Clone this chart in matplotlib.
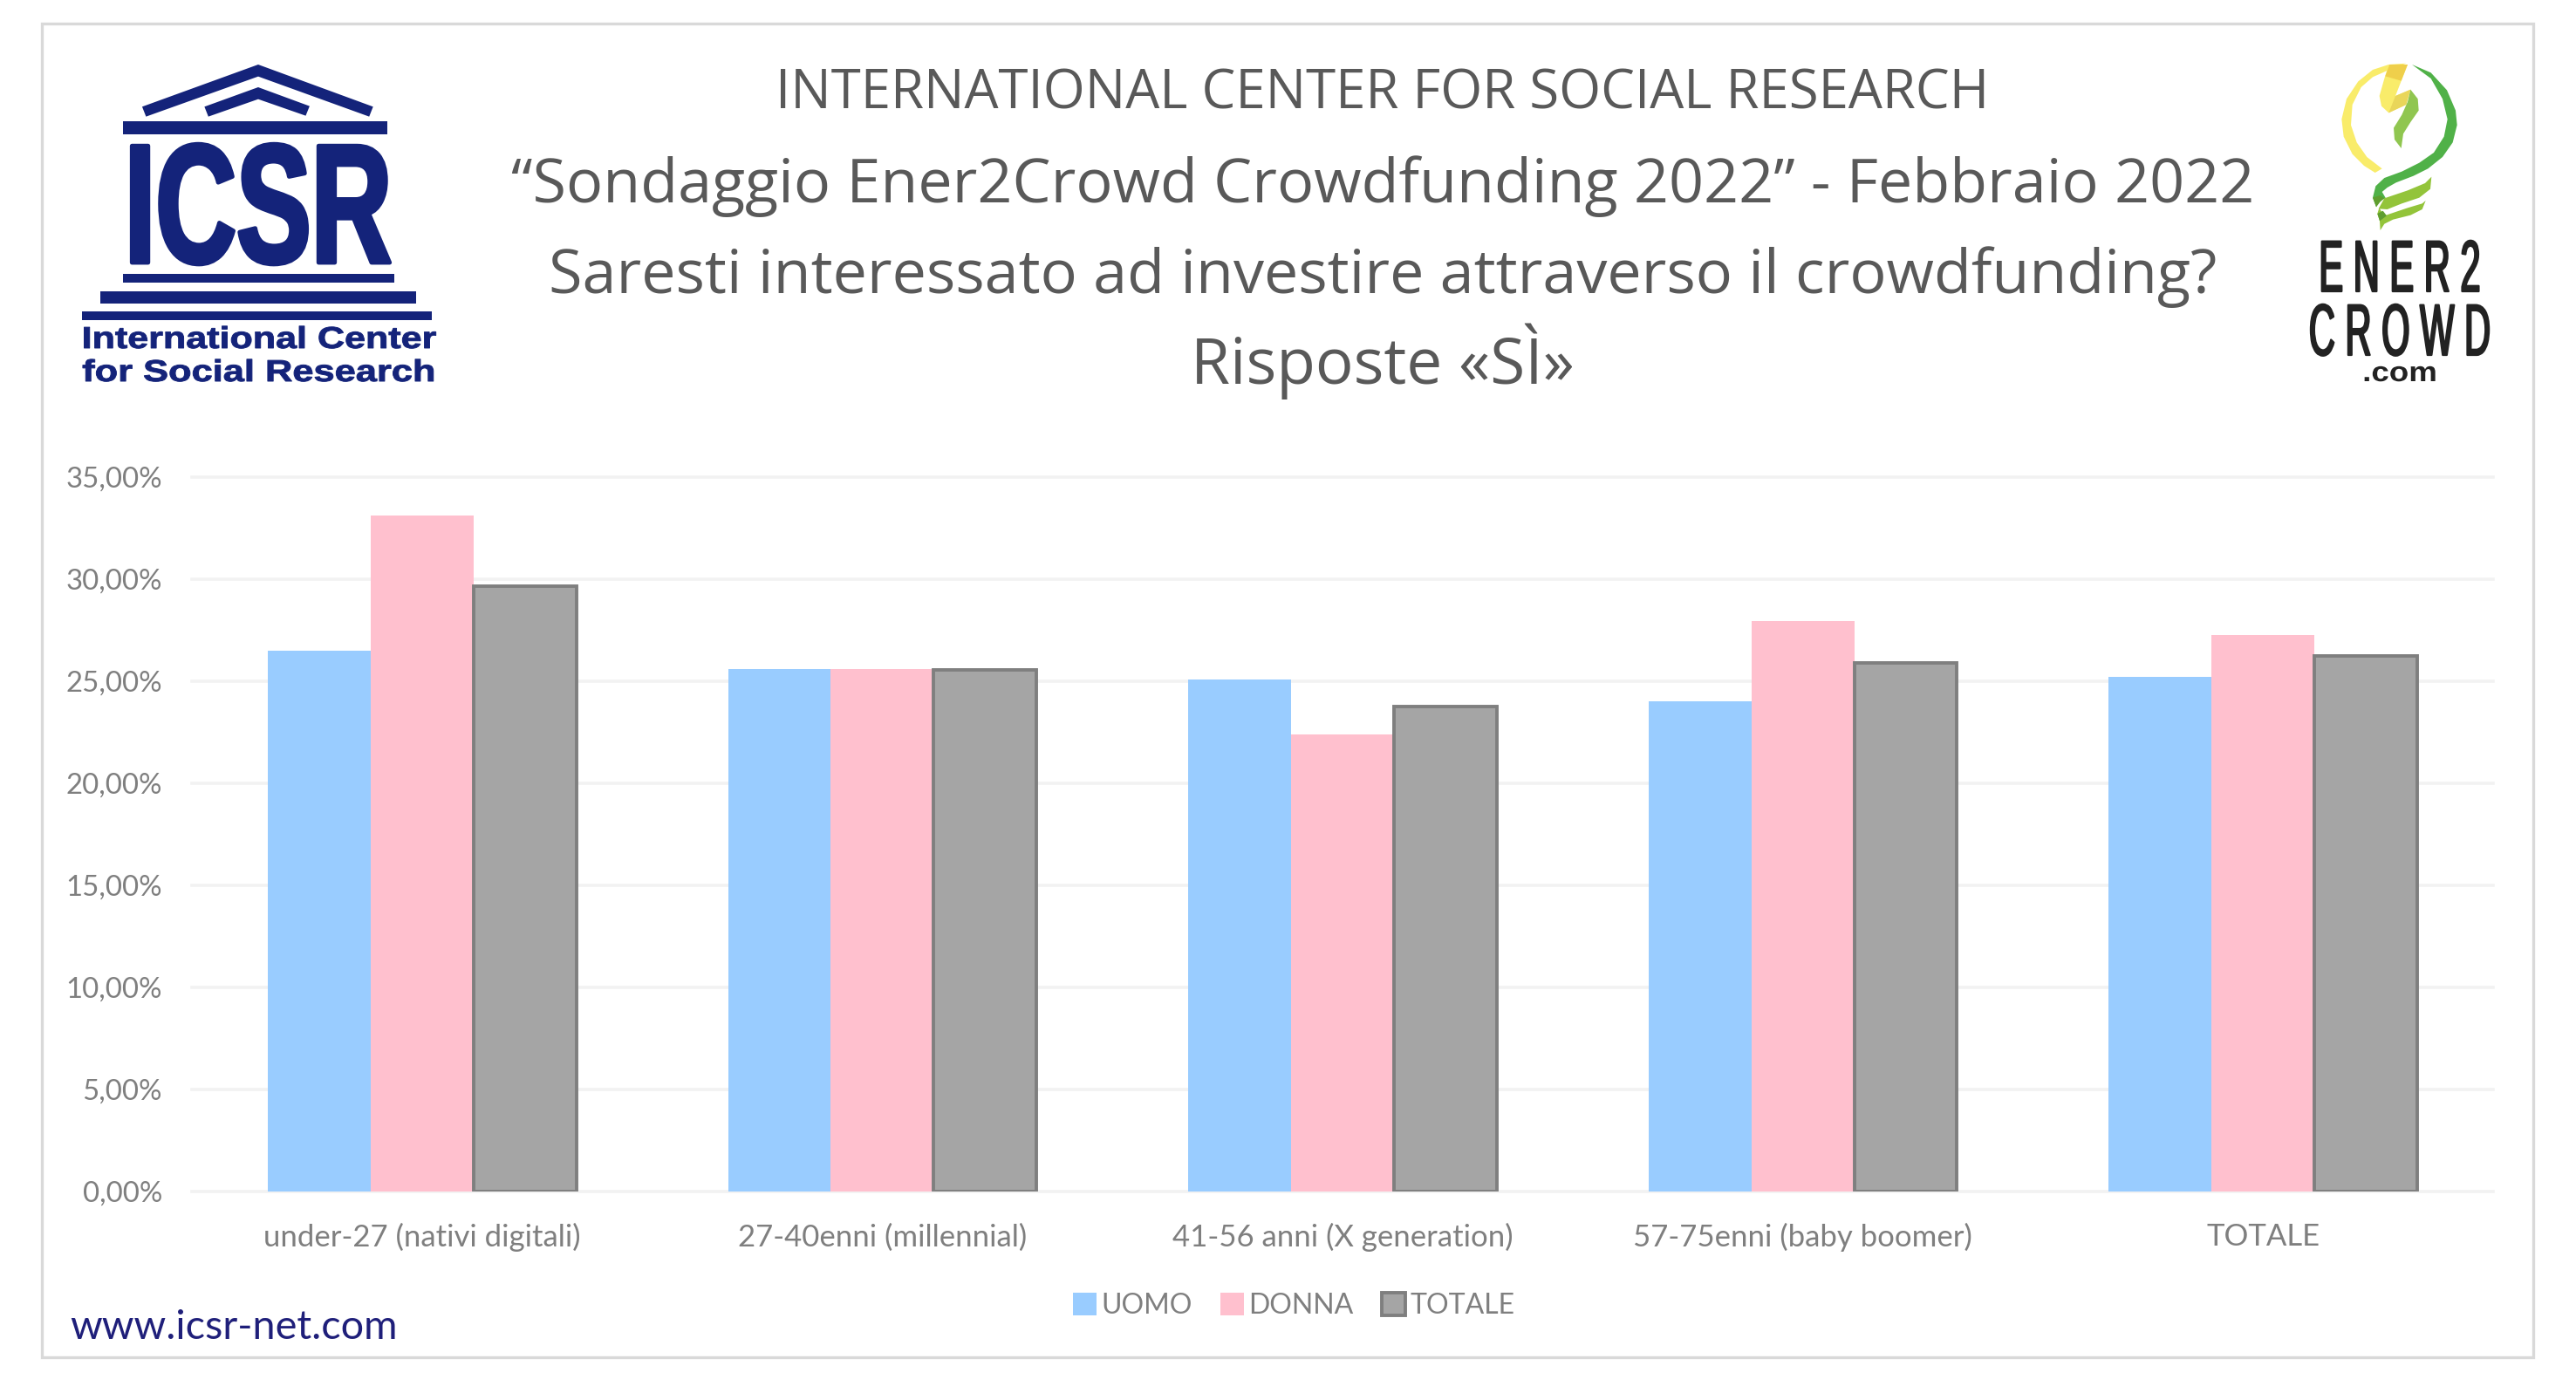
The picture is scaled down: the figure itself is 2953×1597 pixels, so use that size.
import matplotlib
matplotlib.use("Agg")
import matplotlib.pyplot as plt
import numpy as np
from matplotlib.patches import Polygon, Rectangle
from matplotlib.patheffects import AbstractPathEffect
from matplotlib.transforms import Affine2D
from matplotlib.ticker import FuncFormatter, MultipleLocator

# === Data ===
categories = ["under-27 (nativi digitali)", "27-40enni (millennial)", "41-56 anni (X generation)",
              "57-75enni (baby boomer)", "TOTALE"]
uomo = [26.5, 25.6, 25.1, 24.0, 25.2]
donna = [33.1, 25.6, 22.4, 27.95, 27.25]
totale = [29.65, 25.55, 23.75, 25.9, 26.25]

title_lines = ["INTERNATIONAL CENTER FOR SOCIAL RESEARCH",
               "“Sondaggio Ener2Crowd Crowdfunding 2022” - Febbraio 2022",
               "Saresti interessato ad investire attraverso il crowdfunding?",
               "Risposte «SÌ»"]

W, H = 2953, 1597
DPI = 100
GREY_TXT = "#7f7f7f"
NAVY = "#14237a"
plt.rcParams["font.family"] = ["Lato", "DejaVu Sans"]


class Stretch(AbstractPathEffect):
    # scale logo lettering around (x0, baseline), optionally fatten it with a stroke
    def __init__(self, sx, sy, x0, y0, stroke=0):
        self.sx, self.sy, self.x0, self.y0, self.stroke = sx, sy, x0, H - y0, stroke

    def draw_path(self, renderer, gc, tpath, affine, rgbFace=None):
        t = affine + Affine2D().translate(-self.x0, -self.y0).scale(self.sx, self.sy).translate(self.x0, self.y0)
        gc0 = renderer.new_gc()
        gc0.copy_properties(gc)
        gc0.set_linewidth(self.stroke)
        renderer.draw_path(gc0, tpath, t, rgbFace)
        gc0.restore()


fig = plt.figure(figsize=(W / DPI, H / DPI), dpi=DPI, facecolor="white")

# === Main chart ===
left, right, top, bottom = 220, 2858, 547, 1366
ax = fig.add_axes([left / W, 1 - bottom / H, (right - left) / W, (bottom - top) / H])
x = np.arange(len(categories))
width = 0.2235
ax.bar(x - width, uomo, width, color="#99ccff", label="UOMO", zorder=2)
ax.bar(x, donna, width, color="#ffc0ce", label="DONNA", zorder=3)
ax.bar(x + width, totale, width, color="#a5a5a5", edgecolor="#7f7f7f", linewidth=2.8, label="TOTALE", zorder=4)

ax.set_xlim(-0.5, len(categories) - 0.5)
ax.set_ylim(0, 35)
ax.yaxis.set_major_locator(MultipleLocator(5))
ax.yaxis.set_major_formatter(FuncFormatter(lambda v, _: f"{v:.2f}%".replace(".", ",")))
ax.set_xticks(x, categories)
ax.tick_params(axis="both", length=0, labelcolor=GREY_TXT)
ax.tick_params(axis="x", pad=26, labelsize=25)
ax.tick_params(axis="y", pad=24.5, labelsize=23.8)
ax.grid(axis="y", color="#f2f2f2", linewidth=2.6, clip_on=False)
ax.set_axisbelow(True)
for s in ax.spines.values():
    s.set_visible(False)

ax.legend(loc="center", bbox_to_anchor=(1483 / W, 1 - 1497 / H), bbox_transform=fig.transFigure, ncol=3,
          frameon=False, fontsize=23, labelcolor=GREY_TXT, handlelength=0.85, handleheight=0.85,
          handletextpad=0.17, columnspacing=1.0, borderpad=0)

# === Overlay in pixel coordinates (frame, titles, logos) ===
ov = fig.add_axes([0, 0, 1, 1], facecolor="none")
ov.set_xlim(0, W)
ov.set_ylim(H, 0)
ov.axis("off")
ov.add_patch(Rectangle((48, 27), 2856, 1529, fill=False, edgecolor="#d9d9d9", linewidth=2.4))

title_y = [108, 214, 318, 414]
title_size = [44.5, 50.5, 50.5, 52.5]
for line, y, size in zip(title_lines, title_y, title_size):
    ov.text(1585, y, line, ha="center", va="center", fontsize=size, color="#595959", family="Open Sans")

ov.text(80, 1522, "www.icsr-net.com", ha="left", va="center", fontsize=33.7, color="#1f1f7a")


# ICSR logo, shapes (crop scale 2.24 x 3)
def icsr(pts):
    return [(px / 2.24, py / 3) for px, py in pts]


ov.add_patch(Polygon(icsr([(663, 222), (958, 367), (948, 401), (663, 263), (375, 401), (365, 367)]), color=NAVY, lw=0))
ov.add_patch(Polygon(icsr([(663, 300), (795, 365), (785, 398), (663, 341), (535, 401), (525, 367)]), color=NAVY, lw=0))
for x0, y0, x1, y1 in [(315, 418, 995, 461), (315, 942, 1013, 972), (258, 1002, 1068, 1045), (211, 1071, 1108, 1102)]:
    ov.add_patch(Polygon(icsr([(x0, y0), (x1, y0), (x1, y1), (x0, y1)]), color=NAVY, lw=0))

ov.text(296, 301, "ICSR", ha="center", va="baseline", fontsize=70, fontweight="bold", color=NAVY,
        family="Liberation Sans", path_effects=[Stretch(1.32, 2, 296, 301, stroke=3.5)])
ov.text(297, 399, "International Center", ha="center", va="baseline", fontsize=25, fontweight="bold", color=NAVY,
        family="Liberation Sans", path_effects=[Stretch(1.24, 1, 297, 399, stroke=0.7)])
ov.text(297, 437, "for Social Research", ha="center", va="baseline", fontsize=25, fontweight="bold", color=NAVY,
        family="Liberation Sans", path_effects=[Stretch(1.25, 1, 297, 437, stroke=0.7)])


def bulb(pts):
    return [(2500 + px / 3, py / 3) for px, py in pts]


yellow_arc = [(775, 218), (715, 222), (660, 240), (610, 280), (570, 340), (553, 410), (560, 470), (590, 530),
              (630, 570), (668, 594), (692, 580), (640, 540), (605, 490), (585, 430), (590, 360), (620, 300),
              (660, 265), (705, 245)]
green_arc = [(795, 222), (860, 250), (915, 310), (945, 380), (950, 430), (935, 490), (900, 540), (850, 580),
             (800, 605), (740, 628), (710, 645), (692, 660), (705, 682), (682, 690), (672, 712), (660, 680),
             (670, 640), (700, 612), (760, 590), (820, 560), (870, 525), (905, 470), (917, 410), (900, 340),
             (860, 270)]
thread_1 = [(862, 608), (858, 650), (820, 680), (760, 700), (710, 720), (680, 718), (700, 682), (780, 655), (840, 630)]
thread_2 = [(842, 690), (830, 720), (790, 740), (730, 755), (700, 770), (686, 792), (684, 760), (676, 735), (682, 715),
            (700, 742), (780, 715), (830, 700)]
twist_1 = [(660, 680), (672, 712), (685, 695), (700, 682), (685, 672)]
twist_2 = [(676, 735), (684, 760), (708, 742), (695, 725)]
bolt = [(715, 222), (780, 222), (738, 330), (790, 308), (775, 360), (715, 388), (690, 365), (683, 330), (700, 270)]
bolt_top = [(718, 222), (780, 222), (758, 278), (703, 262)]
bolt_fold = [(738, 330), (790, 308), (775, 360), (715, 388)]
leaf = [(790, 308), (815, 340), (818, 380), (790, 420), (765, 460), (758, 510), (735, 480), (732, 440), (760, 395),
        (780, 350)]
ov.add_patch(Polygon(bulb(yellow_arc), color="#f9ec6a", lw=0))
ov.add_patch(Polygon(bulb(green_arc), color="#50b148", lw=0))
ov.add_patch(Polygon(bulb(thread_1), color="#93c43a", lw=0))
ov.add_patch(Polygon(bulb(thread_2), color="#93c43a", lw=0))
ov.add_patch(Polygon(bulb(twist_1), color="#5f9e2f", lw=0))
ov.add_patch(Polygon(bulb(twist_2), color="#5f9e2f", lw=0))
ov.add_patch(Polygon(bulb(bolt), color="#f9ec6a", lw=0))
ov.add_patch(Polygon(bulb(bolt_top), color="#efcf4b", lw=0))
ov.add_patch(Polygon(bulb(bolt_fold), color="#e9d65a", lw=0))
ov.add_patch(Polygon(bulb(leaf), color="#90c650", lw=0))

ov.text(2751, 334, "E N E R 2", ha="center", va="baseline", fontsize=30, color="#222222",
        family="Liberation Sans", path_effects=[Stretch(1, 2, 2751, 334, stroke=1.6)])
ov.text(2751, 407, "C R O W D", ha="center", va="baseline", fontsize=30, color="#222222",
        family="Liberation Sans", path_effects=[Stretch(1, 2, 2751, 407, stroke=1.6)])
ov.text(2751, 437, ".com", ha="center", va="baseline", fontsize=23, fontweight="bold", color="#222222",
        family="Liberation Sans", path_effects=[Stretch(1.15, 1, 2751, 437)])

fig.savefig("out.png", dpi=DPI)
